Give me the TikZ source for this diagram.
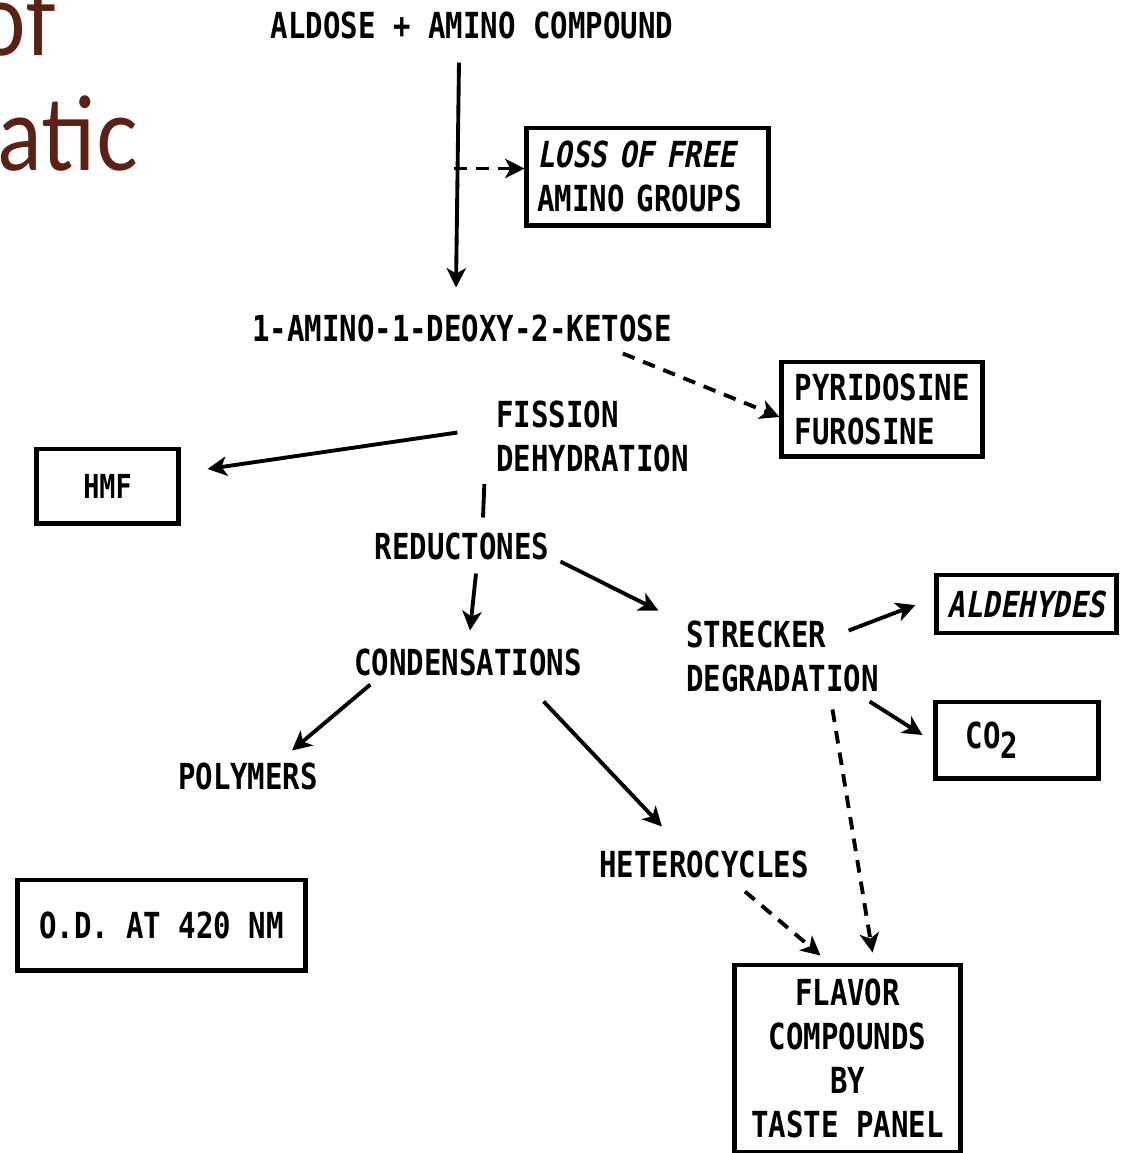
\documentclass[tikz,border=0pt]{standalone}
\usepackage{fontspec}
\usepackage{xcolor}
\newfontfamily\typefont[FakeStretch=0.81]{DejaVu Sans Mono}
\newfontfamily\slantfont[FakeStretch=0.81,FakeSlant=0.18]{DejaVu Sans Mono}
\newfontfamily\titlefont[FakeStretch=0.86]{Lato}
\usetikzlibrary{arrows.meta, positioning, calc}
\definecolor{titlebrown}{HTML}{5A2114}
\newcommand{\chartfont}{\typefont\bfseries\fontsize{10.2pt}{12.5pt}\selectfont}
\newcommand{\chartslant}{\slantfont\bfseries\fontsize{10.2pt}{12.5pt}\selectfont}

\begin{document}
\begin{tikzpicture}[x=0.01cm, y=-0.01cm, line width=1.1pt,
    lbl/.style={font=\chartfont, inner sep=0pt},
    box/.style={draw, line width=1.4pt, font=\chartfont, inner sep=0pt},
    arr/.style={-{Stealth[length=5.5pt, width=5.5pt, inset=1.5pt]}},
    darr/.style={arr, dash pattern=on 3.6pt off 2.6pt}]
    \path[use as bounding box, clip] (0,0) rectangle (1126,1153);

    % Slide title behind
    \node[font=\titlefont\fontsize{29pt}{34pt}\selectfont, text=titlebrown, anchor=base east, inner sep=0pt] (titleA) at (58,55) {of};
    \node[font=\titlefont\fontsize{29pt}{34pt}\selectfont, text=titlebrown, anchor=base west, inner sep=0pt] (titleB) at (-3,170) {atic};

    % Top
    \node[lbl] (aldose) at (472,25) {ALDOSE + AMINO COMPOUND};
    \node[box, minimum width=2.41cm, minimum height=0.97cm, align=left, text width=2.2cm] (loss) at (647.5,176.5) {{\chartslant LOSS OF FREE}\\AMINO GROUPS};
    \node[lbl] (ketose) at (462,328) {1-AMINO-1-DEOXY-2-KETOSE};
    \node[box, minimum width=2.0cm, minimum height=0.94cm, align=left, text width=1.74cm] (pyrid) at (882,409) {PYRIDOSINE\\FUROSINE};

    \draw[arr] ($(aldose.south)+(-13,22)$) -- ($(ketose.north)+(-6,-25)$);
    \draw[darr] ($(loss.west)+(-70,-8)$) -- ($(loss.west)+(0,-8)$);
    \draw[darr] ($(ketose.south east)+(-51,10)$) -- ($(pyrid.west)+(0,8)$);

    % Middle
    \node[lbl, align=left] (fission) at (592.5,436.5) {FISSION\\DEHYDRATION};
    \node[box, minimum width=1.41cm, minimum height=0.74cm, font=\typefont\bfseries\fontsize{9.4pt}{11pt}\selectfont] (hmf) at (107.5,486) {HMF};
    \node[lbl] (reduct) at (462,546) {REDUCTONES};
    \node[lbl] (conden) at (468,662) {CONDENSATIONS};
    \node[lbl, align=left] (strecker) at (782.5,656) {STRECKER\\DEGRADATION};
    \node[box, minimum width=1.79cm, minimum height=0.58cm, font=\chartslant] (aldeh) at (1026.5,604) {ALDEHYDES};
    \node[box, minimum width=1.62cm, minimum height=0.76cm] (co2) at (1017,740) {\hspace*{-0.5cm}CO\raisebox{-0.5ex}{2}};

    \draw[arr] ($(fission.west)+(-37,-4)$) -- ($(hmf.east)+(27,-17)$);
    \draw ($(fission.south west)+(-10,10)$) -- ($(reduct.north)+(21,-13)$);
    \draw[arr] ($(reduct.south)+(14,12)$) -- ($(conden.north)+(2,-16)$);
    \draw[arr] ($(reduct.south east)+(9,0)$) -- ($(strecker.north west)+(-26,-8)$);
    \draw[arr] ($(strecker.north east)+(-32,12)$) -- ($(aldeh.west)+(-19,1)$);
    \draw[arr] ($(strecker.south east)+(-11,8)$) -- ($(co2.west)+(-11,-5)$);

    % Bottom
    \node[lbl] (polymers) at (248,776) {POLYMERS};
    \node[lbl] (hetero) at (704,864) {HETEROCYCLES};
    \node[box, minimum width=2.87cm, minimum height=0.9cm] (od) at (161.5,925) {O.D. AT 420 NM};
    \node[box, minimum width=2.25cm, minimum height=1.87cm, align=center] (flavor) at (847.5,1058.5) {FLAVOR\\COMPOUNDS\\BY\\TASTE PANEL};

    \draw[arr] ($(conden.south west)+(18,7)$) -- ($(polymers.north)+(44,-10)$);
    \draw[arr] ($(conden.south east)+(-40,24)$) -- ($(hetero.north)+(-42,-22)$);
    \draw[darr] ($(strecker.south)+(50,16)$) -- ($(flavor.north)+(25,-10)$);
    \draw[darr] ($(hetero.south)+(41,12)$) -- ($(flavor.north)+(-27,-7)$);
\end{tikzpicture}
\end{document}
